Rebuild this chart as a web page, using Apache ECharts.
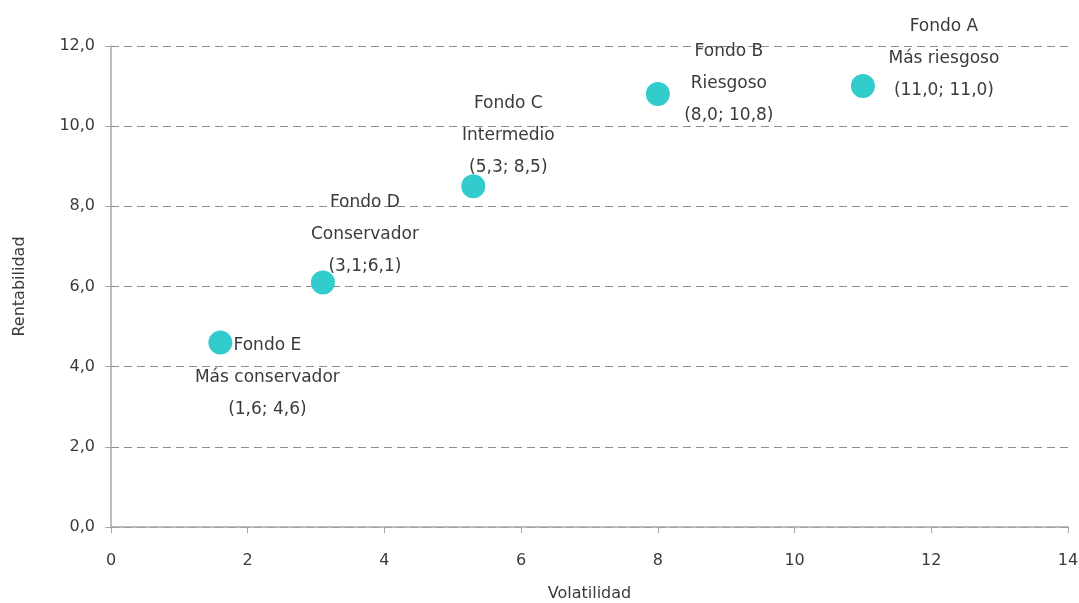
<!DOCTYPE html>
<html>
<head>
<meta charset="utf-8">
<script src="https://cdn.jsdelivr.net/npm/echarts@6/dist/echarts.min.js"></script>
<style>
  html, body { margin: 0; padding: 0; background: #fff; }
  #chart { width: 1079px; height: 603px; }
</style>
</head>
<body>
<div id="chart"></div>
<script>
// Data
var fundNames = ['Fondo A', 'Fondo B', 'Fondo C', 'Fondo D', 'Fondo E'];
var fundProfiles = ['Más riesgoso', 'Riesgoso', 'Intermedio', 'Conservador', 'Más conservador'];
var fundCoordText = ['(11,0; 11,0)', '(8,0; 10,8)', '(5,3; 8,5)', '(3,1;6,1)', '(1,6; 4,6)'];
var volatility = [11.0, 8.0, 5.3, 3.1, 1.6];
var returns = [11.0, 10.8, 8.5, 6.1, 4.6];

// Label placement (style, not data)
var labelOffsets = [[81, -28], [71, -11], [35, -51], [42, -48], [47, 35]];

var textColor = '#3a3a3a';
var fontFam = '"DejaVu Sans", Verdana, sans-serif';

var points = volatility.map(function (v, i) {
  return {
    value: [v, returns[i]],
    label: {
      show: true,
      position: 'inside',
      offset: labelOffsets[i],
      align: 'center',
      verticalAlign: 'middle',
      formatter: fundNames[i] + '\n' + fundProfiles[i] + '\n' + fundCoordText[i],
      color: textColor,
      fontSize: 17,
      lineHeight: 32,
      fontFamily: fontFam
    }
  };
});

var chart = echarts.init(document.getElementById('chart'));
chart.setOption({
  animation: false,
  backgroundColor: '#ffffff',
  grid: { left: 111, right: 11, top: 46, bottom: 76, containLabel: false, outerBoundsMode: 'none' },
  xAxis: {
    type: 'value',
    min: 0, max: 14, interval: 2,
    name: 'Volatilidad',
    nameLocation: 'middle',
    nameGap: 59,
    nameTextStyle: { color: textColor, fontSize: 16, fontFamily: fontFam },
    axisLine: { show: true, lineStyle: { color: '#a6a6a6', width: 1.5 } },
    axisTick: { show: true, length: 6, lineStyle: { color: '#a6a6a6' } },
    axisLabel: { color: textColor, fontSize: 16, fontFamily: fontFam, margin: 26 },
    splitLine: { show: false }
  },
  yAxis: {
    type: 'value',
    min: 0, max: 12, interval: 2,
    name: 'Rentabilidad',
    nameLocation: 'middle',
    nameGap: 83,
    nameTextStyle: { color: textColor, fontSize: 16, fontFamily: fontFam },
    axisLine: { show: true, lineStyle: { color: '#a6a6a6', width: 1.5 } },
    axisTick: { show: true, length: 6, lineStyle: { color: '#a6a6a6' } },
    axisLabel: {
      color: textColor, fontSize: 16, fontFamily: fontFam, margin: 16,
      formatter: function (v) { return v.toFixed(1).replace('.', ','); }
    },
    splitLine: { show: true, lineStyle: { color: '#8c8c8c', type: [8, 5], width: 1 } }
  },
  series: [{
    type: 'scatter',
    symbol: 'circle',
    symbolSize: 24,
    itemStyle: { color: '#33CCCC', opacity: 1 },
    data: points
  }]
});
</script>
</body>
</html>
